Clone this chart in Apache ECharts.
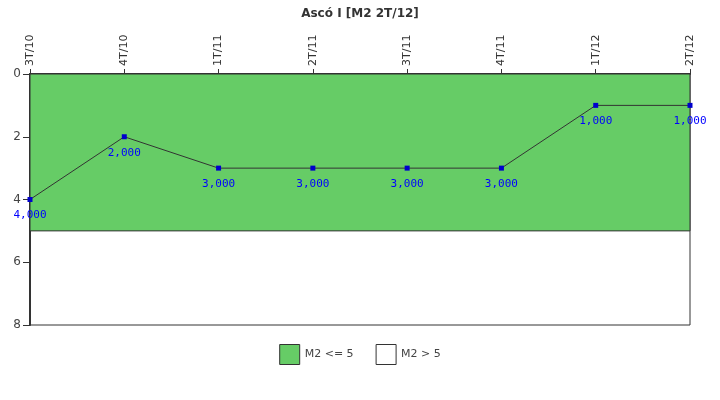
<!DOCTYPE html>
<html>
<head>
<meta charset="utf-8">
<script src="https://cdn.jsdelivr.net/npm/echarts@6/dist/echarts.min.js"></script>
<style>
  html, body { margin: 0; padding: 0; background: #fff; }
  #chart { width: 720px; height: 400px; }
</style>
</head>
<body>
<div id="chart"></div>
<script>
// Chart data
var quarters = ["3T/10", "4T/10", "1T/11", "2T/11", "3T/11", "4T/11", "1T/12", "2T/12"];
var m2Values = [4, 2, 3, 3, 3, 3, 1, 1];
var yTicks = [0, 2, 4, 6, 8];
var limitValue = 5;
var legendNames = ["M2 <= 5", "M2 > 5"];

var chart = echarts.init(document.getElementById("chart"));

chart.setOption({
  animation: false,
  textStyle: { fontFamily: "DejaVu Sans, sans-serif" },

  // Title
  title: {
    text: "Ascó I [M2 2T/12]",
    left: "center",
    top: 3,
    textStyle: { fontSize: 12, fontWeight: "bold", color: "#333" }
  },

  grid: {
    left: 30, right: 30, top: 74, bottom: 75,
    show: true,
    borderColor: "#333",
    borderWidth: 1,
    backgroundColor: "#fff"
  },

  legend: {
    bottom: 30,
    left: "center",
    itemWidth: 20,
    itemHeight: 20,
    itemGap: 22,
    icon: "rect",
    textStyle: { fontSize: 11, color: "#444" },
    data: [
      { name: legendNames[0], itemStyle: { color: "#66cc66", borderColor: "#333", borderWidth: 1 } },
      { name: legendNames[1], itemStyle: { color: "#fff", borderColor: "#333", borderWidth: 1 } }
    ]
  },

  xAxis: {
    type: "category",
    position: "top",
    boundaryGap: false,
    data: quarters,
    axisLine: { lineStyle: { color: "#333", width: 2 } },
    axisTick: { alignWithLabel: true, length: 5, lineStyle: { color: "#333" } },
    axisLabel: { rotate: 90, fontSize: 11, color: "#333", margin: 8 },
    splitLine: { show: false }
  },

  yAxis: {
    type: "value",
    inverse: true,
    min: yTicks[0],
    max: yTicks[yTicks.length - 1],
    interval: 2,
    axisLine: { show: true, lineStyle: { color: "#333", width: 2 } },
    axisTick: { show: true, length: 7, lineStyle: { color: "#333" } },
    axisLabel: { fontSize: 12, color: "#444", margin: 9 },
    splitLine: { show: false }
  },

  series: [
    {
      name: legendNames[0],
      type: "line",
      data: [],
      itemStyle: { color: "#66cc66" },
      markArea: {
        silent: true,
        itemStyle: { color: "#66cc66", borderColor: "#333", borderWidth: 1 },
        data: [[{ yAxis: 0 }, { yAxis: limitValue }]]
      }
    },
    {
      name: legendNames[1],
      type: "line",
      data: [],
      itemStyle: { color: "#fff" }
    },
    {
      name: "M2",
      type: "line",
      data: m2Values,
      z: 5,
      symbol: "rect",
      symbolSize: 5,
      lineStyle: { color: "#333", width: 1 },
      itemStyle: { color: "#0000cc" },
      label: {
        show: true,
        position: "bottom",
        distance: 8,
        color: "#0000ff",
        fontSize: 11,
        fontFamily: "DejaVu Sans Mono, monospace",
        formatter: function (p) {
          return p.value.toFixed(3).replace(".", ",");
        }
      }
    }
  ]
});
</script>
</body>
</html>
